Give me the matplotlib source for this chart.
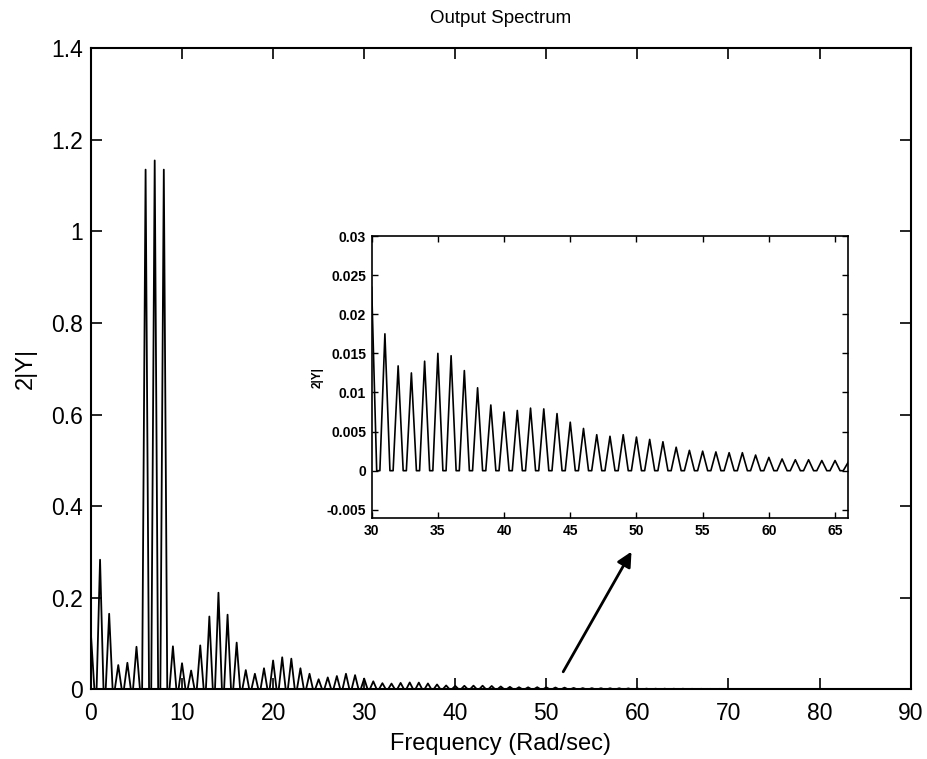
import numpy as np
import matplotlib.pyplot as plt
from matplotlib.ticker import FormatStrFormatter

plt.rcParams['font.family'] = ['Liberation Sans', 'DejaVu Sans']

# peak height of 2|Y| at each integer frequency (rad/sec)
freqs = np.arange(0, 84)
peaks = [0.12, 0.283, 0.165, 0.053, 0.058, 0.093, 1.135, 1.155, 1.135, 0.094,
         0.057, 0.041, 0.096, 0.159, 0.211, 0.163, 0.102, 0.042, 0.034, 0.046,
         0.063, 0.070, 0.067, 0.046, 0.034, 0.022, 0.026, 0.029, 0.034, 0.031,
         0.0235, 0.0175, 0.0134, 0.0125, 0.014, 0.015, 0.0147, 0.0128, 0.0106, 0.0084,
         0.0075, 0.0077, 0.008, 0.0079, 0.0073, 0.0062, 0.0054, 0.0046, 0.0044, 0.0046,
         0.0043, 0.004, 0.0037, 0.003, 0.0026, 0.0025, 0.0024, 0.0023, 0.0023, 0.002,
         0.0017, 0.0015, 0.0014, 0.0014, 0.0013, 0.0013, 0.0011, 0.0011, 0.001, 0.001,
         0.0009, 0.0009, 0.0008, 0.0008, 0.0008, 0.0007, 0.0007, 0.0007, 0.0006, 0.0006,
         0.0006, 0.0005, 0.0005, 0.0005]

main_xticks = np.arange(0, 91, 10)
main_yticks = np.arange(0, 1.41, 0.2)
inset_xticks = np.arange(30, 66, 5)
inset_yticks = np.arange(-0.005, 0.0301, 0.005)

# each spectral line drawn as a narrow triangle on a zero floor
hw = 0.38
xs, ys = [], []
for f, p in zip(freqs, peaks):
    if f > 0:
        xs.append(f - hw); ys.append(0)
    xs.append(f); ys.append(p)
    xs.append(f + hw); ys.append(0)
xs = np.array(xs)
ys = np.array(ys)

fig = plt.figure(figsize=(9.28, 7.59), dpi=100)
ax = fig.add_axes([0.098, 0.0918, 0.8833, 0.8446])
ax.plot(xs, ys, color='black', lw=1.3)
ax.set_xlim(0, 90)
ax.set_ylim(0, 1.4)
ax.set_xticks(main_xticks)
ax.set_yticks(main_yticks)
ax.yaxis.set_major_formatter(FormatStrFormatter('%g'))
ax.tick_params(direction='in', length=8, width=1.2, labelsize=16.5, top=True, right=True)
ax.tick_params(axis='x', pad=9)
ax.tick_params(axis='y', pad=6)
for s in ax.spines.values():
    s.set_linewidth(1.5)
ax.set_xlabel('Frequency (Rad/sec)', fontsize=17, labelpad=6)
ax.set_ylabel('2|Y|', fontsize=17, labelpad=10)
ax.set_title('Output Spectrum', fontsize=13.5, pad=18)

ax.annotate('', xy=(59.5, 0.306), xytext=(51.7, 0.033),
            arrowprops=dict(arrowstyle='-|>', color='black', lw=2, mutation_scale=22))

# zoomed inset
ins = fig.add_axes([0.4005, 0.317, 0.5136, 0.372])
ins.plot(xs, ys, color='black', lw=1.2)
ins.set_xlim(30, 66)
ins.set_ylim(-0.0061, 0.03)
ins.set_xticks(inset_xticks)
ins.set_yticks(inset_yticks)
ins.yaxis.set_major_formatter(FormatStrFormatter('%g'))
ins.tick_params(direction='in', length=4, width=1, labelsize=10, top=True, right=True, pad=4)
for lab in ins.get_xticklabels() + ins.get_yticklabels():
    lab.set_fontweight('bold')
for s in ins.spines.values():
    s.set_linewidth(1.2)
ins.set_ylabel('2|Y|', fontsize=8.5, fontweight='bold', labelpad=2)

fig.savefig('out.png', dpi=100)
